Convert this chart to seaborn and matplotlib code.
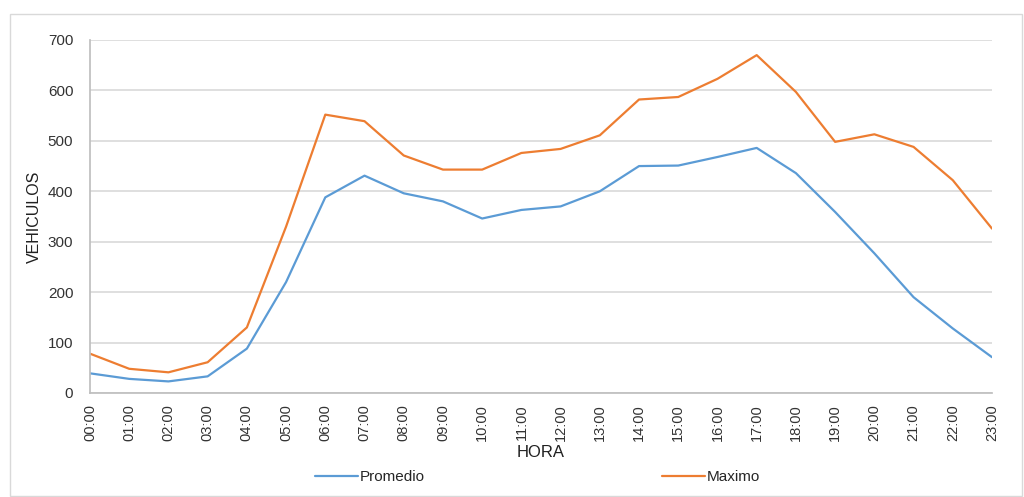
import matplotlib
matplotlib.use("Agg")
import matplotlib.pyplot as plt
import matplotlib.patches as mpatches
import seaborn as sns
import pandas as pd

horas = [f"{h:02d}:00" for h in range(24)]
promedio = [39, 28, 23, 33, 88, 220, 388, 431, 396, 380, 346, 363,
            370, 400, 450, 451, 468, 486, 436, 359, 277, 190, 128, 71]
maximo = [78, 48, 41, 61, 130, 330, 552, 539, 471, 443, 443, 476,
          484, 511, 582, 587, 623, 670, 597, 498, 513, 488, 422, 326]

df = pd.DataFrame({
    "idx": list(range(24)) * 2,
    "HORA": horas * 2,
    "VEHICULOS": promedio + maximo,
    "serie": ["Promedio"] * 24 + ["Maximo"] * 24,
})

sns.set_theme(style="white")
plt.rcParams["font.family"] = ["Liberation Sans", "DejaVu Sans"]

fig = plt.figure(figsize=(10.24, 4.97), dpi=100)
ax = fig.add_axes([90 / 1024, 1 - 393 / 497, 902 / 1024, 353 / 497])

sns.lineplot(data=df, x="idx", y="VEHICULOS", hue="serie",
             palette={"Promedio": "#5B9BD5", "Maximo": "#ED7D31"},
             linewidth=1.6, ax=ax, legend=False)

ax.set_xlim(0, 23)
ax.set_ylim(0, 700)
ax.set_yticks(range(0, 701, 100))
ax.set_xticks(range(24))
ax.set_xticklabels(horas, rotation=90, fontsize=10.5, color="#333333")
ax.tick_params(axis="y", labelsize=11, labelcolor="#333333", length=0, pad=12)
ax.tick_params(axis="x", length=0, pad=8)
ax.grid(axis="y", color="#d9d9d9", linewidth=1.2)
ax.set_axisbelow(True)
for s in ["top", "right"]:
    ax.spines[s].set_visible(False)
ax.spines["left"].set_color("#bfbfbf")
ax.spines["bottom"].set_color("#bfbfbf")
ax.set_xlabel("HORA", fontsize=12, color="#202020", labelpad=3)
ax.set_ylabel("VEHICULOS", fontsize=11.5, color="#202020", labelpad=4)

handles = [plt.Line2D([], [], color="#5B9BD5", linewidth=1.6),
           plt.Line2D([], [], color="#ED7D31", linewidth=1.6)]
fig.legend(handles, ["Promedio", "Maximo"], loc="center",
           bbox_to_anchor=(0.525, 1 - 477 / 497), ncol=2, frameon=False,
           fontsize=11, handlelength=2.8, handletextpad=0.15,
           columnspacing=15.5)

fig.patches.append(mpatches.Rectangle(
    (10 / 1024, 1 / 497), 1012 / 1024, 482 / 497, transform=fig.transFigure,
    fill=False, edgecolor="#d9d9d9", linewidth=1))

fig.savefig("out.png", dpi=100)
